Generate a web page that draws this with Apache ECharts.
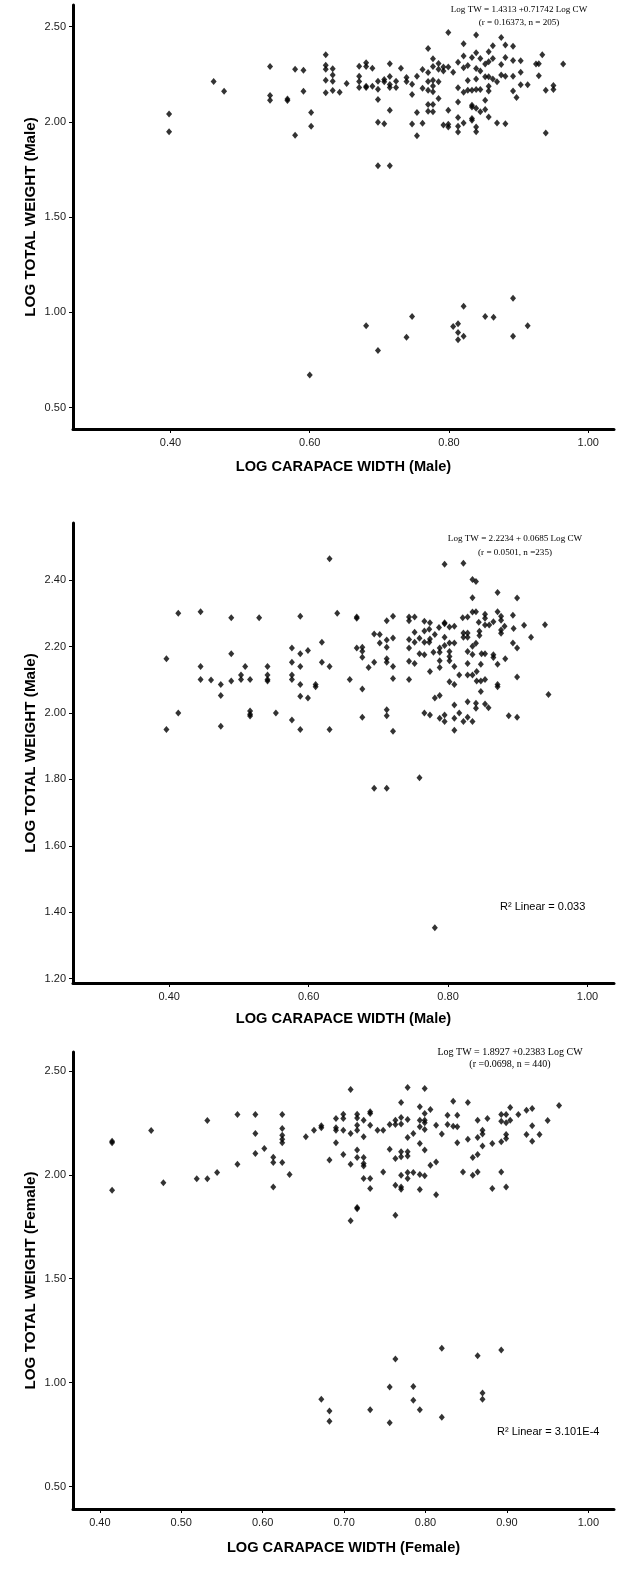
<!DOCTYPE html>
<html>
<head>
<meta charset="utf-8">
<script src="https://cdn.jsdelivr.net/npm/echarts@6.0.0/dist/echarts.min.js"></script>
<style>
html,body{margin:0;padding:0;background:#fff;}
#chart{width:632px;height:1576px;}
</style>
</head>
<body>
<div id="chart"></div>
<script>
// ---------- DATA ----------
// Panel 1: Male, log carapace width vs log total weight (n = 205 reported)
const male1Points = [
[0.398,2.042],[0.398,1.949],[0.462,2.212],[0.477,2.161],[0.543,2.291],[0.543,2.139],[0.543,2.114],[0.568,2.121],[0.568,2.112],[0.579,2.277],
[0.591,2.272],[0.591,2.161],[0.579,1.930],[0.602,2.049],[0.602,1.977],[0.623,2.353],[0.623,2.298],[0.623,2.277],[0.623,2.219],[0.623,2.153],
[0.633,2.279],[0.633,2.247],[0.633,2.214],[0.633,2.165],[0.643,2.156],[0.653,2.202],[0.671,2.293],[0.671,2.240],[0.671,2.212],[0.671,2.181],
[0.681,2.311],[0.681,2.291],[0.681,2.188],[0.681,2.181],[0.690,2.282],[0.690,2.188],[0.698,2.214],[0.698,2.172],[0.698,2.118],[0.698,1.998],
[0.707,2.223],[0.707,2.211],[0.707,1.991],[0.715,2.305],[0.715,2.239],[0.715,2.196],[0.715,2.181],[0.715,2.061],[0.724,2.214],[0.724,2.181],
[0.731,2.282],[0.739,2.233],[0.739,2.212],[0.747,2.198],[0.747,2.144],[0.747,1.989],[0.754,2.240],[0.754,1.928],[0.754,2.049],[0.762,2.275],
[0.762,2.177],[0.762,1.993],[0.770,2.386],[0.770,2.260],[0.770,2.212],[0.770,2.167],[0.770,2.091],[0.770,2.056],[0.777,2.332],[0.777,2.291],
[0.777,2.219],[0.777,2.189],[0.777,2.158],[0.777,2.091],[0.777,2.054],[0.785,2.307],[0.785,2.277],[0.785,2.211],[0.785,2.123],[0.792,2.289],
[0.792,2.267],[0.792,1.984],[0.799,2.470],[0.799,2.289],[0.799,2.061],[0.799,1.974],[0.799,1.988],[0.806,2.261],[0.813,2.314],[0.813,2.179],
[0.813,2.105],[0.813,2.023],[0.813,1.977],[0.813,1.947],[0.821,2.411],[0.821,2.346],[0.821,2.284],[0.821,2.156],[0.821,1.995],[0.827,2.296],
[0.827,2.218],[0.827,2.167],[0.833,2.339],[0.833,2.167],[0.833,2.088],[0.833,2.079],[0.833,2.018],[0.833,2.009],[0.839,2.456],[0.839,2.363],
[0.839,2.281],[0.839,2.226],[0.839,2.170],[0.839,2.072],[0.839,1.974],[0.839,1.949],[0.845,2.333],[0.845,2.267],[0.845,2.170],[0.845,2.054],
[0.852,2.304],[0.852,2.237],[0.852,2.114],[0.852,2.065],[0.857,2.368],[0.857,2.316],[0.857,2.237],[0.857,2.188],[0.857,2.163],[0.857,2.026],
[0.863,2.400],[0.863,2.333],[0.863,2.225],[0.869,2.211],[0.869,1.995],[0.875,2.444],[0.875,2.302],[0.875,2.246],[0.881,2.404],[0.881,2.339],
[0.881,2.240],[0.881,1.991],[0.892,2.398],[0.892,2.323],[0.892,2.240],[0.892,2.163],[0.897,2.128],[0.903,2.321],[0.903,2.261],[0.903,2.195],
[0.913,2.195],[0.925,2.304],[0.929,2.305],[0.929,2.242],[0.934,2.353],[0.939,2.167],[0.939,1.942],[0.950,2.191],[0.950,2.170],[0.964,2.304],
[0.698,1.770],[0.715,1.770],
[0.600,0.672],[0.681,0.930],[0.698,0.800],[0.739,0.870],[0.747,0.979],[0.806,0.926],[0.813,0.940],[0.813,0.895],[0.813,0.856],[0.821,1.032],
[0.821,0.875],[0.852,0.979],[0.864,0.975],[0.892,1.074],[0.892,0.875],[0.913,0.930]
];

// Panel 2: Male (n = 235 reported)
const male2Points = [
[0.630,2.464],[0.795,2.448],[0.822,2.451],[0.835,2.402],[0.840,2.396],[0.871,2.363],[0.899,2.346],[0.835,2.347],
[0.413,2.300],[0.445,2.305],[0.489,2.287],[0.529,2.287],[0.588,2.291],[0.641,2.300],[0.669,2.289],[0.669,2.285],[0.712,2.278],[0.721,2.291],
[0.744,2.289],[0.752,2.289],[0.744,2.278],[0.766,2.276],[0.774,2.272],[0.795,2.272],[0.795,2.269],[0.821,2.287],[0.828,2.289],[0.835,2.304],
[0.840,2.305],[0.853,2.297],[0.853,2.285],[0.871,2.305],[0.876,2.291],[0.893,2.294],[0.909,2.264],[0.939,2.266],[0.919,2.228],[0.844,2.273],
[0.853,2.265],[0.859,2.265],[0.865,2.275],[0.876,2.279],[0.881,2.261],[0.876,2.250],[0.894,2.254],[0.876,2.240],[0.893,2.211],[0.899,2.196],
[0.822,2.241],[0.828,2.241],[0.822,2.228],[0.828,2.228],[0.840,2.210],[0.835,2.201],[0.845,2.246],[0.845,2.233],[0.828,2.185],[0.835,2.176],
[0.848,2.178],[0.853,2.178],[0.865,2.175],[0.865,2.167],[0.787,2.257],[0.802,2.259],[0.809,2.261],[0.795,2.228],[0.788,2.196],[0.795,2.203],
[0.802,2.211],[0.809,2.211],[0.766,2.247],[0.773,2.252],[0.781,2.236],[0.752,2.243],[0.759,2.225],[0.774,2.223],[0.744,2.221],[0.752,2.213],
[0.766,2.213],[0.773,2.213],[0.744,2.196],[0.759,2.178],[0.766,2.175],[0.779,2.183],[0.788,2.183],[0.802,2.185],[0.802,2.170],[0.694,2.238],
[0.702,2.236],[0.712,2.220],[0.721,2.226],[0.702,2.211],[0.712,2.198],[0.669,2.196],[0.677,2.198],[0.677,2.186],[0.677,2.168],[0.712,2.163],
[0.619,2.213],[0.599,2.188],[0.576,2.196],[0.588,2.178],[0.489,2.178],[0.396,2.163],
[0.445,2.140],[0.445,2.101],[0.460,2.099],[0.474,2.086],[0.489,2.096],[0.503,2.114],[0.503,2.101],[0.509,2.140],[0.516,2.101],[0.541,2.140],
[0.541,2.114],[0.541,2.101],[0.541,2.096],[0.576,2.153],[0.576,2.114],[0.576,2.101],[0.588,2.140],[0.588,2.086],[0.588,2.050],[0.599,2.045],
[0.610,2.086],[0.610,2.079],[0.619,2.153],[0.630,2.140],[0.474,2.053],[0.659,2.101],[0.677,2.072],[0.686,2.137],[0.694,2.153],[0.712,2.153],
[0.721,2.140],[0.721,2.104],[0.744,2.156],[0.752,2.149],[0.744,2.101],[0.774,2.125],[0.788,2.137],[0.788,2.157],[0.802,2.157],[0.809,2.140],
[0.816,2.114],[0.828,2.149],[0.828,2.114],[0.835,2.114],[0.841,2.125],[0.841,2.096],[0.847,2.096],[0.853,2.101],[0.847,2.147],[0.847,2.065],
[0.871,2.147],[0.871,2.086],[0.871,2.079],[0.882,2.163],[0.899,2.108],[0.944,2.056],[0.802,2.094],[0.809,2.086],[0.781,2.045],[0.788,2.053],
[0.809,2.024],[0.828,2.034],[0.840,2.029],[0.840,2.014],[0.853,2.027],[0.858,2.016],[0.766,2.000],[0.774,1.994],[0.795,1.994],[0.788,1.984],
[0.795,1.974],[0.809,1.984],[0.816,2.000],[0.822,1.974],[0.828,1.987],[0.835,1.974],[0.809,1.948],[0.887,1.992],[0.899,1.987],
[0.396,1.950],[0.413,2.000],[0.474,1.960],[0.516,2.006],[0.516,1.996],[0.516,1.991],[0.553,2.000],[0.576,1.979],[0.588,1.950],[0.630,1.950],
[0.677,1.987],[0.712,2.010],[0.712,1.992],[0.721,1.945],
[0.759,1.805],[0.694,1.773],[0.712,1.773],
[0.781,1.353]
];

// Panel 3: Female (n = 440 reported)
const female3Points = [
[0.415,2.162],[0.415,2.154],[0.463,2.213],[0.532,2.261],[0.569,2.290],[0.591,2.290],[0.624,2.290],[0.591,2.199],[0.602,2.127],[0.591,2.103],
[0.613,2.085],[0.613,2.059],[0.624,2.223],[0.624,2.191],[0.624,2.171],[0.624,2.154],[0.624,2.059],[0.633,2.002],[0.569,2.051],[0.544,2.011],
[0.532,1.981],[0.519,1.981],[0.478,1.962],[0.653,2.183],[0.663,2.215],[0.672,2.226],[0.672,2.236],[0.682,2.071],[0.690,2.271],[0.690,2.226],
[0.690,2.215],[0.690,2.154],[0.699,2.292],[0.699,2.271],[0.699,2.215],[0.699,2.098],[0.708,2.410],[0.708,2.199],[0.708,2.051],[0.716,2.292],
[0.716,2.274],[0.716,2.239],[0.716,2.215],[0.716,2.119],[0.716,2.083],[0.724,2.263],[0.724,2.183],[0.724,2.083],[0.724,2.054],[0.724,2.042],
[0.724,1.982],[0.732,2.303],[0.732,2.295],[0.732,2.239],[0.732,1.982],[0.732,1.934],[0.741,2.215],[0.748,2.215],[0.748,2.014],[0.756,2.242],
[0.756,2.123],[0.763,2.263],[0.763,2.242],[0.763,2.079],[0.763,1.950],[0.770,2.348],[0.770,2.276],[0.770,2.244],[0.770,2.111],[0.770,2.087],
[0.770,1.998],[0.770,1.942],[0.778,2.420],[0.778,2.266],[0.778,2.179],[0.778,2.111],[0.778,2.090],[0.778,2.011],[0.778,1.982],[0.785,2.199],
[0.785,2.011],[0.793,2.327],[0.793,2.263],[0.793,2.231],[0.793,2.151],[0.793,2.002],[0.793,1.929],[0.799,2.415],[0.799,2.295],[0.799,2.263],
[0.799,2.250],[0.799,2.218],[0.799,2.119],[0.799,1.995],[0.806,2.314],[0.806,2.046],[0.813,2.239],[0.813,2.062],[0.820,2.196],[0.827,2.287],
[0.827,2.242],[0.834,2.354],[0.834,2.234],[0.839,2.287],[0.839,2.231],[0.839,2.154],[0.846,2.014],[0.852,2.348],[0.852,2.171],[0.858,2.083],
[0.858,1.998],[0.864,2.263],[0.864,2.179],[0.864,2.098],[0.864,2.014],[0.870,2.215],[0.870,2.196],[0.870,2.139],[0.876,2.271],[0.882,2.151],
[0.882,1.934],[0.893,2.290],[0.893,2.258],[0.893,2.159],[0.893,2.014],[0.899,2.290],[0.899,2.250],[0.899,2.194],[0.899,2.175],[0.899,1.942],
[0.904,2.324],[0.904,2.263],[0.914,2.290],[0.924,2.311],[0.924,2.194],[0.931,2.319],[0.931,2.236],[0.931,2.162],[0.940,2.194],[0.950,2.261],
[0.964,2.333],
[0.415,1.926],[0.613,1.942],[0.770,1.931],[0.813,1.904],[0.708,1.779],[0.716,1.837],[0.716,1.843],[0.763,1.806],
[0.820,1.165],[0.864,1.130],[0.893,1.157],[0.763,1.114],
[0.672,0.920],[0.682,0.863],[0.682,0.814],[0.732,0.870],[0.756,0.979],[0.756,0.807],[0.785,0.982],[0.785,0.915],[0.793,0.870],[0.820,0.833],
[0.870,0.950],[0.870,0.920]
];

// Tick labels
const p1XTicks = [0.40, 0.60, 0.80, 1.00];
const p1YTicks = [0.50, 1.00, 1.50, 2.00, 2.50];
const p2XTicks = [0.40, 0.60, 0.80, 1.00];
const p2YTicks = [1.20, 1.40, 1.60, 1.80, 2.00, 2.20, 2.40];
const p3XTicks = [0.40, 0.50, 0.60, 0.70, 0.80, 0.90, 1.00];
const p3YTicks = [0.50, 1.00, 1.50, 2.00, 2.50];

// Axis titles
const xTitles = ['LOG CARAPACE WIDTH (Male)', 'LOG CARAPACE WIDTH (Male)', 'LOG CARAPACE WIDTH (Female)'];
const yTitles = ['LOG TOTAL WEIGHT (Male)', 'LOG TOTAL WEIGHT (Male)', 'LOG TOTAL WEIGHT (Female)'];

// Annotations
const eqLines = [
  ['Log TW = 1.4313 +0.71742 Log CW', '(r = 0.16373, n = 205)'],
  ['Log TW = 2.2234 + 0.0685 Log CW', '(r = 0.0501, n =235)'],
  ['Log TW = 1.8927 +0.2383 Log CW', '(r =0.0698, n = 440)']
];
const r2Values = [null, '0.033', '3.101E-4'];

// ---------- CHART ----------
const SANS = '"Liberation Sans", Arial, sans-serif';
const SERIF = '"Liberation Serif", "Times New Roman", serif';

const grids = [
  {left: 73, top: 5, width: 541, height: 424},
  {left: 73, top: 523, width: 541, height: 460},
  {left: 73, top: 1052, width: 541, height: 457}
];
const xRanges = [[0.26, 1.037], [0.262, 1.038], [0.367, 1.0315]];
const yRanges = [[0.388, 2.614], [1.187, 2.572], [0.392, 2.591]];
const xTickSets = [p1XTicks, p2XTicks, p3XTicks];
const yTickSets = [p1YTicks, p2YTicks, p3YTicks];
const xNameGaps = [30, 28, 31];
const pointSets = [male1Points, male2Points, female3Points];

const axisLineStyle = {show: true, onZero: false, lineStyle: {color: '#000', width: 3}};
const fmt = v => Number(v).toFixed(2);

const xAxis = grids.map((g, i) => ({
  type: 'value', gridIndex: i,
  min: xRanges[i][0], max: xRanges[i][1],
  axisLine: axisLineStyle,
  axisTick: {show: true, length: 4, lineStyle: {color: '#000', width: 1}, customValues: xTickSets[i]},
  axisLabel: {color: '#1a1a1a', fontFamily: SANS, fontSize: 11, margin: 8, formatter: fmt, customValues: xTickSets[i]},
  splitLine: {show: false},
  name: xTitles[i], nameLocation: 'middle', nameGap: xNameGaps[i],
  nameTextStyle: {fontFamily: SANS, fontSize: 14.6, fontWeight: 'bold', color: '#000', verticalAlign: 'top'}
}));
const yAxis = grids.map((g, i) => ({
  type: 'value', gridIndex: i,
  min: yRanges[i][0], max: yRanges[i][1],
  axisLine: axisLineStyle,
  axisTick: {show: true, length: 4, lineStyle: {color: '#000', width: 1}, customValues: yTickSets[i]},
  axisLabel: {color: '#1a1a1a', fontFamily: SANS, fontSize: 11, margin: 7, formatter: fmt, customValues: yTickSets[i]},
  splitLine: {show: false},
  name: yTitles[i], nameLocation: 'middle', nameGap: 35, nameMoveOverlap: false,
  nameTextStyle: {fontFamily: SANS, fontSize: 15.2, fontWeight: 'bold', color: '#000'}
}));
const series = pointSets.map((pts, i) => ({
  type: 'scatter', xAxisIndex: i, yAxisIndex: i,
  data: pts, symbol: 'diamond', symbolSize: [6, 7],
  itemStyle: {color: '#000'}, silent: true, animation: false
}));

const eqFonts = [9.1, 9.1, 10];
const eqPos = [[519, 10, 23], [515, 539, 553], [510, 1052, 1064]];
const graphic = [];
eqLines.forEach((lines, i) => {
  graphic.push({type: 'text', x: eqPos[i][0], y: eqPos[i][1], silent: true,
    style: {text: lines[0], font: eqFonts[i] + 'px ' + SERIF, fill: '#000', align: 'center', verticalAlign: 'middle'}});
  graphic.push({type: 'text', x: eqPos[i][0], y: eqPos[i][2], silent: true,
    style: {text: lines[1], font: eqFonts[i] + 'px ' + SERIF, fill: '#000', align: 'center', verticalAlign: 'middle'}});
});
const r2Pos = [null, [500, 907], [497, 1432]];
r2Values.forEach((v, i) => {
  if (v === null) return;
  graphic.push({type: 'text', x: r2Pos[i][0], y: r2Pos[i][1], silent: true,
    style: {text: 'R\u00B2 Linear = ' + v, font: '11px ' + SANS, fill: '#000', align: 'left', verticalAlign: 'middle'}});
});

const chart = echarts.init(document.getElementById('chart'), null, {renderer: 'canvas'});
chart.setOption({
  backgroundColor: '#fff',
  animation: false,
  grid: grids,
  xAxis: xAxis,
  yAxis: yAxis,
  series: series,
  graphic: graphic
});
</script>
</body>
</html>
